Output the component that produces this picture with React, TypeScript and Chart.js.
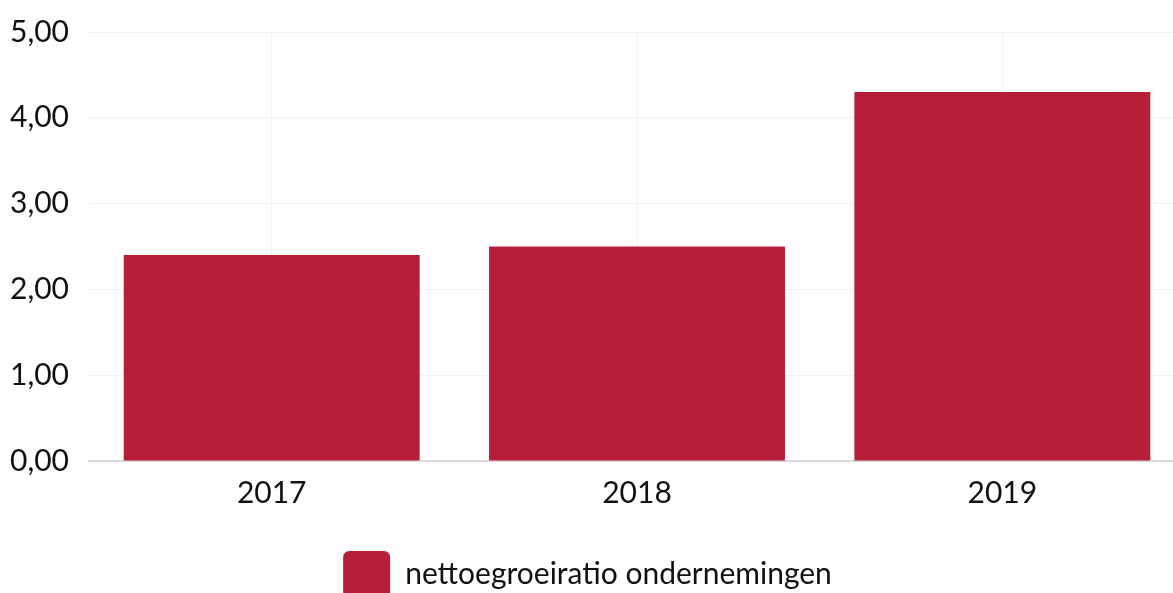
import React, { useEffect, useRef } from "react";
import { Chart, registerables } from "chart.js";

Chart.register(...registerables);

const categories = ["2017", "2018", "2019"];
const seriesLabel = "nettoegroeiratio ondernemingen";
const seriesValues = [2.4, 2.5, 4.3];
const yTicks = [0, 1, 2, 3, 4, 5];

export default function App() {
  const ref = useRef<HTMLCanvasElement | null>(null);
  useEffect(() => {
    document.body.style.margin = "0";
    document.body.style.overflow = "hidden";
    const ctx = ref.current!;
    const chart = new Chart(ctx, {
      type: "bar",
      data: {
        labels: categories,
        datasets: [
          {
            label: seriesLabel,
            data: seriesValues,
            backgroundColor: "#B71F39",
            barPercentage: 0.9,
            categoryPercentage: 0.9,
          },
        ],
      },
      options: {
        animation: false,
        responsive: false,
        maintainAspectRatio: false,
        layout: { padding: { top: 32, right: 0, left: -10, bottom: 0 } },
        font: { family: "Lato" },
        scales: {
          x: {
            grid: { color: "#f3f3f3", drawTicks: false, offset: false },
            border: { color: "#d9d9d9", width: 2 },
            ticks: { color: "#111", font: { family: "Lato", size: 30 }, padding: 14 },
          },
          y: {
            min: 0,
            max: 5,
            afterBuildTicks: (axis: any) => {
              axis.ticks = yTicks.map((v) => ({ value: v }));
            },
            grid: { color: "#f3f3f3", drawTicks: false },
            border: { display: false },
            ticks: {
              color: "#111",
              font: { family: "Lato", size: 30, lineHeight: 0.5 },
              padding: 20,
              callback: (v: any) => Number(v).toFixed(2).replace(".", ","),
            },
          },
        },
        plugins: {
          tooltip: { enabled: false },
          legend: {
            position: "bottom",
            labels: {
              color: "#111",
              font: { family: "Lato", size: 30 },
              boxWidth: 47,
              boxHeight: 47,
              useBorderRadius: true,
              borderRadius: 6,
              padding: 26,
            },
          },
        },
      },
    });
    return () => chart.destroy();
  }, []);
  return (
    <div style={{ width: 1173, height: 593, overflow: "hidden" }}>
      <canvas ref={ref} width={1185} height={608} style={{ display: "block" }} />
    </div>
  );
}
